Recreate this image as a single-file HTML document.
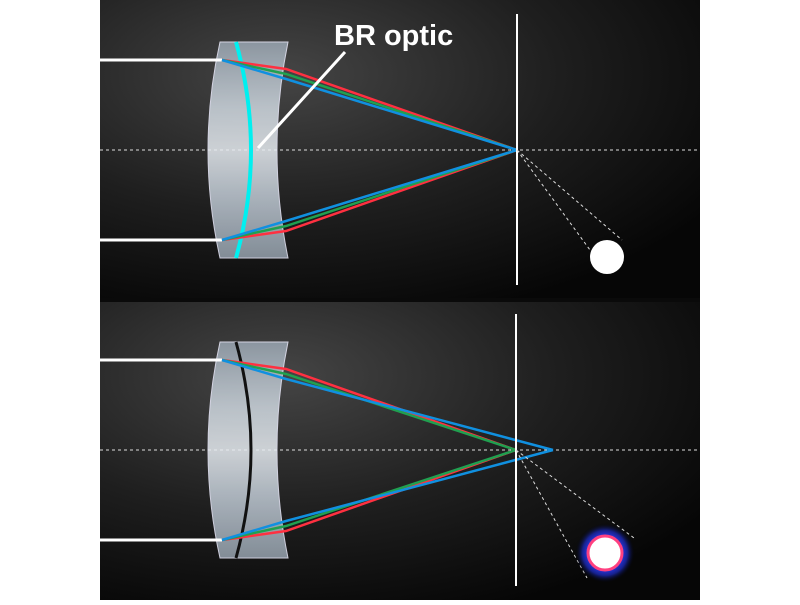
<!DOCTYPE html>
<html><head><style>
body{margin:0;background:#fff;width:800px;height:600px;overflow:hidden}
</style></head><body>
<svg width="800" height="600" viewBox="0 0 800 600" xmlns="http://www.w3.org/2000/svg">
<defs>
<radialGradient id="bg" cx="0.3" cy="0.25" r="0.85">
<stop offset="0" stop-color="#454545"/><stop offset="0.55" stop-color="#1e1e1e"/><stop offset="1" stop-color="#060606"/>
</radialGradient>
<linearGradient id="lens" x1="0" y1="0" x2="0" y2="1">
<stop offset="0" stop-color="#9aa6b2"/><stop offset="0.3" stop-color="#cfd8e0"/><stop offset="0.5" stop-color="#e8edf2"/><stop offset="0.7" stop-color="#c4ced8"/><stop offset="1" stop-color="#96a2ae"/>
</linearGradient>
<radialGradient id="glow"><stop offset="0.5" stop-color="#3040ff"/><stop offset="0.75" stop-color="#1a28b0" stop-opacity="0.8"/><stop offset="1" stop-color="#000" stop-opacity="0"/></radialGradient>
</defs>
<rect x="100" y="0" width="600" height="299" fill="url(#bg)"/>
<rect x="100" y="301" width="600" height="299" fill="url(#bg)"/>
<rect x="100" y="298" width="600" height="4" fill="#0a0a0a"/>

<!-- TOP -->
<g>
<line x1="100" y1="150" x2="700" y2="150" stroke="#ddd" stroke-width="1" stroke-dasharray="3,3"/>
<path d="M220,42 L288,42 Q266,150 288,258 L220,258 Q196,150 220,42 Z" fill="url(#lens)" opacity="0.85" stroke="#eef" stroke-width="1"/>
<path d="M236,42 Q266,150 236,258" fill="none" stroke="#00f0f0" stroke-width="4"/>
<line x1="100" y1="60" x2="222" y2="60" stroke="#fff" stroke-width="3"/>
<line x1="100" y1="240" x2="222" y2="240" stroke="#fff" stroke-width="3"/>
<g stroke-width="2.5" fill="none">
<polyline points="222,60 286,69 517,150" stroke="#ff3040"/>
<polyline points="222,60 286,74 517,150" stroke="#20a050"/>
<polyline points="222,60 286,79 517,150" stroke="#1090e0"/>
<polyline points="222,240 286,231 517,150" stroke="#ff3040"/>
<polyline points="222,240 286,226 517,150" stroke="#20a050"/>
<polyline points="222,240 286,221 517,150" stroke="#1090e0"/>
</g>
<line x1="517" y1="14" x2="517" y2="285" stroke="#fff" stroke-width="2"/>
<line x1="517" y1="150" x2="590" y2="250" stroke="#ddd" stroke-dasharray="3,3"/>
<line x1="517" y1="150" x2="622" y2="240" stroke="#ddd" stroke-dasharray="3,3"/>
<circle cx="607" cy="257" r="17" fill="#fff"/>
<line x1="258" y1="148" x2="345" y2="52" stroke="#fff" stroke-width="3"/>
<text x="334" y="45" font-family="Liberation Sans, sans-serif" font-weight="bold" font-size="29" fill="#fff">BR optic</text>
</g>

<!-- BOTTOM -->
<g>
<line x1="100" y1="450" x2="700" y2="450" stroke="#ddd" stroke-width="1" stroke-dasharray="3,3"/>
<path d="M220,342 L288,342 Q266,450 288,558 L220,558 Q196,450 220,342 Z" fill="url(#lens)" opacity="0.85" stroke="#eef" stroke-width="1"/>
<path d="M236,342 Q266,450 236,558" fill="none" stroke="#111" stroke-width="3"/>
<line x1="100" y1="360" x2="222" y2="360" stroke="#fff" stroke-width="3"/>
<line x1="100" y1="540" x2="222" y2="540" stroke="#fff" stroke-width="3"/>
<g stroke-width="2.5" fill="none">
<polyline points="222,360 286,369 516,450" stroke="#ff3040"/>
<polyline points="222,360 286,374 516,450" stroke="#20a050"/>
<polyline points="222,360 286,379 553,450" stroke="#1090e0"/>
<polyline points="222,540 286,531 516,450" stroke="#ff3040"/>
<polyline points="222,540 286,526 516,450" stroke="#20a050"/>
<polyline points="222,540 286,521 553,450" stroke="#1090e0"/>
</g>
<line x1="516" y1="314" x2="516" y2="586" stroke="#fff" stroke-width="2"/>
<line x1="516" y1="450" x2="587" y2="578" stroke="#ddd" stroke-dasharray="3,3"/>
<line x1="516" y1="450" x2="634" y2="538" stroke="#ddd" stroke-dasharray="3,3"/>
<circle cx="605" cy="553" r="30" fill="url(#glow)"/>
<circle cx="605" cy="553" r="17" fill="#fff" stroke="#ff4080" stroke-width="3"/>
</g>
</svg>
</body></html>
